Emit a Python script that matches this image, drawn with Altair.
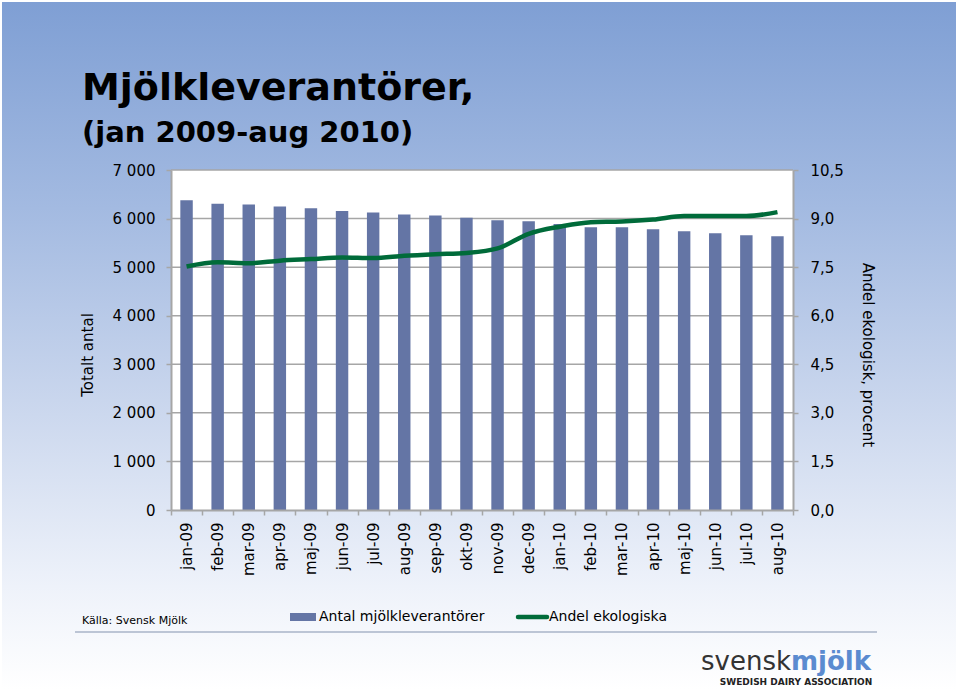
import altair as alt
import pandas as pd

months = ["jan-09", "feb-09", "mar-09", "apr-09", "maj-09", "jun-09", "jul-09",
          "aug-09", "sep-09", "okt-09", "nov-09", "dec-09", "jan-10", "feb-10",
          "mar-10", "apr-10", "maj-10", "jun-10", "jul-10", "aug-10"]
counts = [6375, 6305, 6290, 6250, 6210, 6155, 6125, 6085, 6065, 6015,
          5965, 5945, 5890, 5820, 5820, 5780, 5740, 5700, 5655, 5635]
share = [7.52, 7.65, 7.62, 7.70, 7.75, 7.80, 7.78, 7.85, 7.90, 7.94,
         8.08, 8.53, 8.75, 8.89, 8.91, 8.97, 9.08, 9.08, 9.08, 9.20]
left_ticks = [0, 1000, 2000, 3000, 4000, 5000, 6000, 7000]
right_ticks = [0, 1.5, 3.0, 4.5, 6.0, 7.5, 9.0, 10.5]

title = "Mjölkleverantörer,"
subtitle = "(jan 2009-aug 2010)"
left_title = "Totalt antal"
right_title = "Andel ekologisk, procent"
bar_label = "Antal mjölkleverantörer"
line_label = "Andel ekologiska"
source = "Källa: Svensk Mjölk"
logo_a = "svensk"
logo_b = "mjölk"
logo_sub = "SWEDISH DAIRY ASSOCIATION"

W, H = 622, 340
FONT = "DejaVu Sans"
BAR_COLOR = "#6475A5"
LINE_COLOR = "#006B3A"
GRID = "#A6A6A6"

df = pd.DataFrame({"month": months, "count": counts, "share": share})
grid_df = pd.DataFrame({"v": left_ticks[1:]})
one = alt.Data(values=[{"k": 1}])

x_axis = alt.Axis(title=None, labelAngle=270, labelFont=FONT, labelFontSize=15,
                  labelColor="#000000", domainColor=GRID, domainWidth=2,
                  tickColor=GRID, tickWidth=1.5, tickSize=5, tickBand="extent",
                  labelPadding=7, labelAlign="right", labelBaseline="middle", zindex=1)
x_scale = alt.Scale(paddingInner=0, paddingOuter=0)

bg = alt.Chart(one).mark_rect(
    color=alt.Gradient(gradient="linear", x1=0, x2=0, y1=0, y2=1,
                       stops=[alt.GradientStop(color="#7F9FD4", offset=0),
                              alt.GradientStop(color="#A3BAE1", offset=0.3),
                              alt.GradientStop(color="#CCD8EE", offset=0.6),
                              alt.GradientStop(color="#EEF2FA", offset=0.85),
                              alt.GradientStop(color="#FFFFFF", offset=1)])
).encode(x=alt.value(-169), x2=alt.value(785), y=alt.value(-168), y2=alt.value(520))

plot_bg = alt.Chart(one).mark_rect(color="white").encode(
    x=alt.value(0), x2=alt.value(W), y=alt.value(0), y2=alt.value(H))

grid = alt.Chart(grid_df).mark_rule(color=GRID, strokeWidth=1.5).encode(
    x=alt.value(0), x2=alt.value(W),
    y=alt.Y("v:Q", scale=alt.Scale(domain=[0, 7000], nice=False), axis=None))

bars = alt.Chart(df).mark_bar(color=BAR_COLOR, width=alt.RelativeBandSize(0.4)).encode(
    x=alt.X("month:N", sort=months, scale=x_scale, axis=x_axis),
    y=alt.Y("count:Q", scale=alt.Scale(domain=[0, 7000], nice=False),
            axis=alt.Axis(orient="left", title=None, values=left_ticks, grid=False,
                          labelExpr="replace(format(datum.value, ','), ',', ' ')",
                          labelFont=FONT, labelFontSize=15, labelColor="#000000",
                          domainColor=GRID, domainWidth=2, tickColor=GRID, tickWidth=1.5,
                          tickSize=5, labelPadding=11, zindex=1)))

line = alt.Chart(df).mark_line(color=LINE_COLOR, strokeWidth=4.5, interpolate="monotone").encode(
    x=alt.X("month:N", sort=months, scale=x_scale, axis=x_axis),
    y=alt.Y("share:Q", scale=alt.Scale(domain=[0, 10.5], nice=False),
            axis=alt.Axis(orient="right", title=None, values=right_ticks, grid=False,
                          labelExpr="replace(format(datum.value, '.1f'), '.', ',')",
                          labelFont=FONT, labelFontSize=15, labelColor="#000000",
                          domainColor=GRID, domainWidth=2, tickColor=GRID, tickWidth=1.5,
                          tickSize=5, labelPadding=12, zindex=1)))


def txt(s, x, y, size, align="left", baseline="alphabetic", bold=False, angle=0,
        color="#000000", font=FONT):
    kw = dict(text=s, align=align, baseline=baseline, fontSize=size, color=color,
              font=font, fontWeight="bold" if bold else "normal")
    if angle:
        kw["angle"] = angle
    return alt.Chart(one).mark_text(**kw).encode(x=alt.value(x), y=alt.value(y))


texts = [
    txt(title, -89, -70, 38, bold=True),
    txt(subtitle, -89, -28, 29, bold=True),
    txt(left_title, -83, 185, 15, align="center", baseline="middle", angle=270),
    txt(right_title, 697, 185, 15, align="center", baseline="middle", angle=90),
    txt(source, -89, 451, 11, baseline="middle"),
    txt(bar_label, 148, 447, 14, baseline="middle"),
    txt(line_label, 378, 447, 14, baseline="middle"),
    txt(logo_a, 620, 500, 26, align="right", color="#333333"),
    txt(logo_b, 620, 500, 26, bold=True, color="#5B8BD0"),
    txt(logo_sub, 625, 512, 9, align="center", baseline="middle", bold=True,
        color="#222222"),
]

legend_bar = alt.Chart(one).mark_rect(color=BAR_COLOR).encode(
    x=alt.value(119), x2=alt.value(145), y=alt.value(443), y2=alt.value(451))
legend_line = alt.Chart(one).mark_rule(color=LINE_COLOR, strokeWidth=4.5, strokeCap="round").encode(
    x=alt.value(347), x2=alt.value(376), y=alt.value(447))
sep = alt.Chart(one).mark_rule(color="#A9B4C8", strokeWidth=1.5).encode(
    x=alt.value(-96), x2=alt.value(706), y=alt.value(462))

chart = alt.layer(bg, plot_bg, grid, bars, line, legend_bar, legend_line, sep, *texts).resolve_scale(
    y="independent"
).properties(
    width=W, height=H,
    autosize=alt.AutoSizeParams(type="none"),
    padding={"left": 171, "top": 170, "right": 167, "bottom": 180},
).configure(background="white").configure_view(stroke=None)

chart.save("out.html", embed_options={"renderer": "svg", "actions": False})
